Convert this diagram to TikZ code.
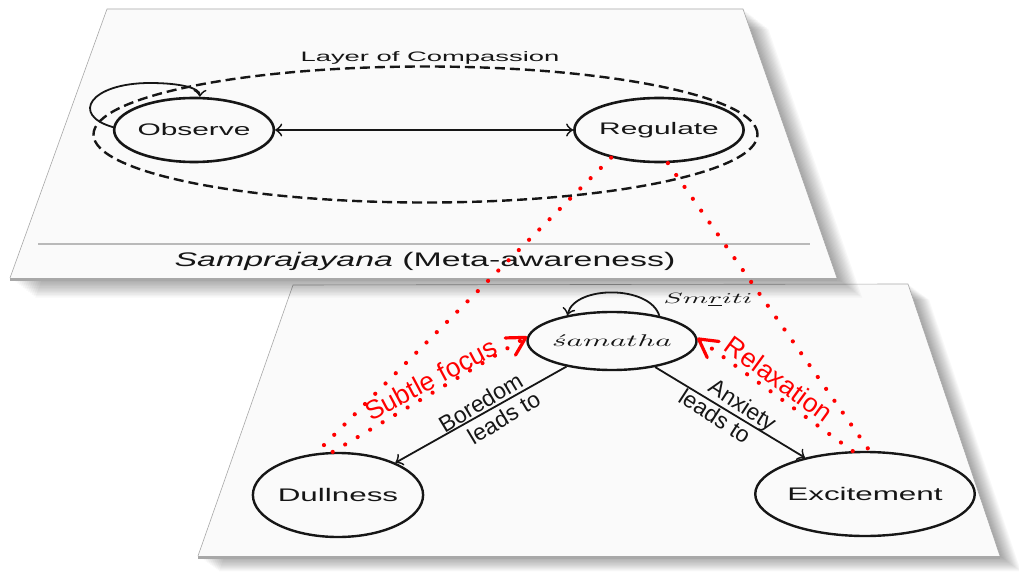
\documentclass[tikz,border=0pt]{standalone}
\usepackage{fontspec}
\setmainfont{Liberation Sans}
\usepackage{graphicx}
\usetikzlibrary{shapes.geometric,arrows.meta}
\newcommand{\sqz}[2][0.56]{\scalebox{1}[#1]{#2}}
\definecolor{ink}{HTML}{161616}
\definecolor{panelfill}{HTML}{FAFAFA}
\definecolor{paneledge}{HTML}{A8A8A8}
\definecolor{annot}{HTML}{FF0000}
\begin{document}
\begin{tikzpicture}[x=1bp,y=-1bp,
  >={Classical TikZ Rightarrow[length=7bp,width=13bp]},
  topstate/.style={ellipse,draw=ink,line width=2.6bp,inner sep=0pt,
     minimum width=156bp,minimum height=64bp,text=ink,
     font=\fontsize{30}{36}\selectfont},
  botstate/.style={ellipse,draw=ink,line width=2.4bp,inner sep=0pt,
     minimum width=170bp,minimum height=84bp,text=ink,
     font=\fontsize{31.5}{36}\selectfont},
  conn/.style={draw=ink,line width=1.8bp},
  edgelabel/.style={text=ink,align=center,inner sep=0pt,
     font=\fontsize{23}{25}\selectfont},
  reddots/.style={draw=annot,line width=4.2bp,line cap=round,
     dash pattern=on 0.01bp off 14.5bp},
  redarrow/.style={reddots,
     -{Straight Barb[length=18bp,width=20bp,line width=3.2bp,round]}},
  redlabel/.style={text=annot,inner sep=0pt,font=\fontsize{26.5}{30}\selectfont}]
\useasboundingbox (0,0) rectangle (1019,573);
\fill[white] (0,0) rectangle (1019,573);

% ---- bottom panel shadow and panel
\foreach \i in {1,...,14}{
  \fill[black,opacity=0.026,shift={(\i*1.5,\i*1.1)}]
    (198,556) -- (293,285) -- (908,284) -- (1000,556) -- cycle;
}
\fill[panelfill] (198,556) -- (293,285) -- (908,284) -- (1000,556) -- cycle;
\draw[paneledge,line width=0.6bp] (198,556) -- (293,285) -- (908,284) -- (1000,556);
\draw[paneledge,line width=3bp] (198,557) -- (1000,557);

% ---- top panel shadow and panel
\foreach \i in {1,...,14}{
  \fill[black,opacity=0.028,shift={(\i*1.8,\i*1.4)}]
    (10,278) -- (107,9) -- (743,9) -- (837,278) -- cycle;
}
\fill[panelfill] (10,278) -- (107,9) -- (743,9) -- (837,278) -- cycle;
\draw[paneledge,line width=0.6bp] (10,278) -- (107,9) -- (743,9) -- (837,278);
\draw[paneledge,line width=3bp] (10,279) -- (837,279);
\draw[paneledge!80,line width=1.4bp] (38,244) -- (810,244);

% ---- top panel content
\node[ellipse,draw=ink,line width=2.4bp,dash pattern=on 10bp off 5bp,
      minimum width=664bp,minimum height=136bp,inner sep=0pt] (layer) at (425.5,134.5) {};
\node[text=ink,inner sep=0pt,font=\fontsize{27.5}{30}\selectfont] (layerlabel) at (430,58)
   {\sqz[0.5]{Layer of Compassion}};
\node[topstate] (obs) at (194,130) {\sqz{Observe}};
\node[topstate] (reg) at (659,130) {\sqz{Regulate}};
\draw[conn,<->] (obs) -- (reg);
\draw[conn,->] (obs.178) .. controls (70,115) and (90,83) .. (150,83)
   .. controls (180,83) and (200,88) .. (obs.80);
\node[anchor=base,text=ink,inner sep=0pt,font=\fontsize{34}{40}\selectfont] (samp) at (425,267)
   {\sqz[0.58]{\textit{Samprajayana} (Meta-awareness)}};

% ---- bottom panel content
\node[ellipse,draw=ink,line width=2.4bp,inner sep=0pt,minimum width=144bp,
      minimum height=58bp,text=ink] (sam) at (612,341)
   {\scalebox{3.1}[1.7]{$\acute{s}amatha$}};
\node[botstate] (dul) at (338,495) {\sqz[0.58]{Dullness}};
\node[botstate] (exc) at (865,494) {\sqz[0.58]{Excitement}};
\draw[conn,->] (sam.28) .. controls (650,285) and (575,285) .. (sam.150);
\node[text=ink,inner sep=0pt] (smriti) at (708,300)
   {\scalebox{2.9}[1.5]{$Sm\underline{r}iti$}};
\draw[conn,->] (sam) -- (dul);
\draw[conn,->] (sam) -- (exc);
\node[edgelabel,rotate=31] (borlab) at (487,413) {Boredom\\\hspace*{24bp}leads to};
\node[edgelabel,rotate=-33] (anxlab) at (736,415) {Anxiety\\leads to\hspace*{34bp}};

% ---- red annotations
\draw[reddots] (reg.210) -- (dul.118);
\draw[reddots] (reg.285) -- (exc.84);
\draw[redarrow] (dul.97) -- (sam.177);
\draw[redarrow] (exc.106) -- (sam.2);
\node[redlabel,rotate=28] (subtle) at (431,379) {Subtle focus};
\node[redlabel,rotate=-36] (relax) at (779,379) {Relaxation};
\end{tikzpicture}
\end{document}
